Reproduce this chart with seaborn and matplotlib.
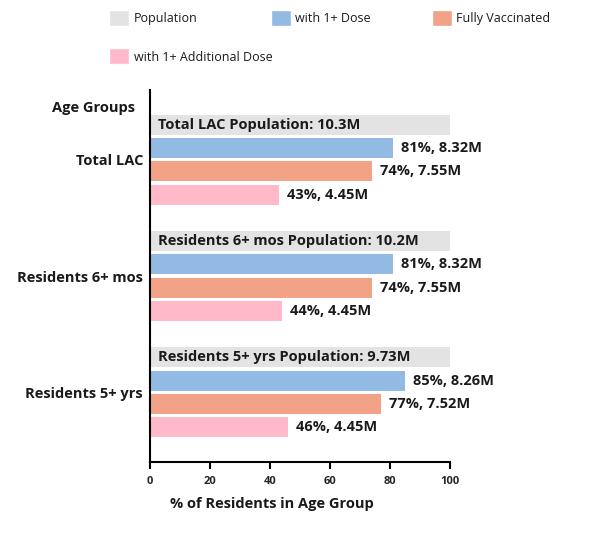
import pandas as pd
import matplotlib.pyplot as plt
import seaborn as sns
from matplotlib.patches import Patch

groups = ["Total LAC", "Residents 6+ mos", "Residents 5+ yrs"]
series = ["Population", "with 1+ Dose", "Fully Vaccinated", "with 1+ Additional Dose"]
popMillions = ["10.3", "10.2", "9.73"]
popPct = [100, 100, 100]
dosePct = [81, 81, 85]
doseMillions = ["8.32", "8.32", "8.26"]
fullPct = [74, 74, 77]
fullMillions = ["7.55", "7.55", "7.52"]
addPct = [43, 44, 46]
addMillions = ["4.45", "4.45", "4.45"]
colors = ["#e3e3e3", "#93bae2", "#f1a287", "#ffb9c9"]

sns.set_style("white")
plt.rcParams['font.family'] = ['Open Sans', 'DejaVu Sans']

rows = []
for i, g in enumerate(groups):
    rows.append({"group": g, "series": series[0], "pct": popPct[i]})
    rows.append({"group": g, "series": series[1], "pct": dosePct[i]})
    rows.append({"group": g, "series": series[2], "pct": fullPct[i]})
    rows.append({"group": g, "series": series[3], "pct": addPct[i]})
df = pd.DataFrame(rows)

fig = plt.figure(figsize=(6, 5.53), dpi=100)
ax = fig.add_axes([0.25, 0.1646, 0.5, 0.6726])

sns.barplot(data=df, y="group", x="pct", hue="series", hue_order=series, order=groups,
            orient="h", palette=colors, saturation=1, width=0.8, gap=0.14, linewidth=0,
            legend=False, ax=ax)

ax.set_xlim(0, 100)
ax.set_ylim(2.6, -0.6)
ax.set_xticks([0, 20, 40, 60, 80, 100])

fs = 10.5
txtCol = "#1a1a1a"

# labels
popBars, doseBars, fullBars, addBars = ax.containers
for i, bar in enumerate(popBars):
    y = bar.get_y() + bar.get_height() / 2
    ax.text(2.5, y, f"{groups[i]} Population: {popMillions[i]}M", va="center", ha="left",
            fontsize=fs, fontweight="bold", color=txtCol)
ax.bar_label(doseBars, labels=[f"{p}%, {m}M" for p, m in zip(dosePct, doseMillions)],
             padding=6, fontsize=fs, fontweight="bold", color=txtCol)
ax.bar_label(fullBars, labels=[f"{p}%, {m}M" for p, m in zip(fullPct, fullMillions)],
             padding=6, fontsize=fs, fontweight="bold", color=txtCol)
ax.bar_label(addBars, labels=[f"{p}%, {m}M" for p, m in zip(addPct, addMillions)],
             padding=6, fontsize=fs, fontweight="bold", color=txtCol)

sns.despine(ax=ax, top=True, right=True)
for s in ["left", "bottom"]:
    ax.spines[s].set_color("black")
    ax.spines[s].set_linewidth(1.5)
ax.tick_params(axis="y", length=0, pad=5, labelsize=fs)
ax.tick_params(axis="x", length=5, width=1.5, color="black", pad=5, labelsize=8, bottom=True)
for lab in ax.get_yticklabels():
    lab.set_fontweight("bold")
    lab.set_color(txtCol)
for lab in ax.get_xticklabels():
    lab.set_fontweight("bold")

ax.set_ylabel("")
ax.set_xlabel("% of Residents in Age Group", fontsize=fs, fontweight="bold", color=txtCol)
ax.xaxis.set_label_coords(0.407, -0.095)
ax.text(-0.05, 0.952, "Age Groups", transform=ax.transAxes, ha="right", va="center",
        fontsize=fs, fontweight="bold", color=txtCol)

# legend, one entry per slot
legendSpots = [(0.178, 0.986), (0.447, 0.986), (0.716, 0.986), (0.178, 0.917)]
for name, col, spot in zip(series, colors, legendSpots):
    fig.legend(handles=[Patch(facecolor=col, edgecolor="white", label=name)],
               loc="upper left", bbox_to_anchor=spot, frameon=False, fontsize=9,
               labelcolor=txtCol, handlelength=1.6, handleheight=1.6, handletextpad=0.35,
               borderpad=0.2, borderaxespad=0)

fig.savefig("out.png", dpi=100)
